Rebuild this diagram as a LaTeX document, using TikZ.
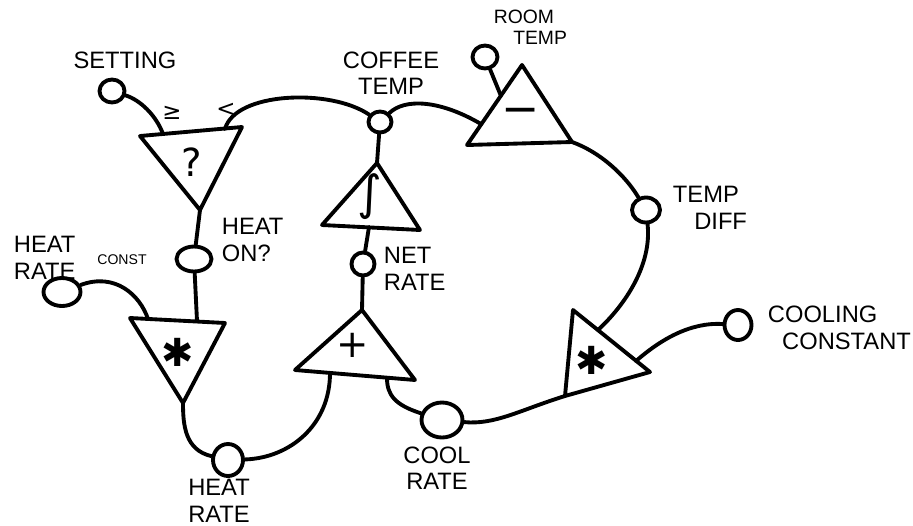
\documentclass[tikz,border=0pt]{standalone}
\usepackage{fontspec}
\setmainfont{Liberation Sans}
\newfontfamily\symf{DejaVu Sans}
\usetikzlibrary{shapes.geometric}
\begin{document}
\begin{tikzpicture}[x=0.02cm,y=-0.02cm, line width=2.2pt, line cap=round, line join=round,
  port/.style={draw, ellipse, inner sep=0pt},
  gate/.style={draw},
  lbl/.style={font=\fontsize{13.5}{15}\selectfont, inner sep=0pt},
  slbl/.style={font=\fontsize{11}{12}\selectfont, inner sep=0pt},
  opsym/.style={font=\symf\fontsize{22}{22}\selectfont, inner sep=0pt},
  cmpmark/.style={font=\symf\fontsize{13}{13}\selectfont, inner sep=0pt}]
\useasboundingbox (0,0) rectangle (913,525);
% ports
\node[port, minimum width=0.5cm, minimum height=0.46cm] (setting) at (112,91) {};
\node[port, minimum width=0.46cm, minimum height=0.42cm] (coffee) at (380,122) {};
\node[port, minimum width=0.5cm, minimum height=0.46cm] (room) at (485,57) {};
\node[port, minimum width=0.56cm, minimum height=0.5cm] (tempdiff) at (646,210) {};
\node[port, minimum width=0.54cm, minimum height=0.6cm] (coolconst) at (738,325) {};
\node[port, minimum width=0.82cm, minimum height=0.7cm] (coolrate) at (442,420) {};
\node[port, minimum width=0.6cm, minimum height=0.64cm] (heatrate) at (228,460) {};
\node[port, minimum width=0.7cm, minimum height=0.5cm] (heaton) at (194,259) {};
\node[port, minimum width=0.74cm, minimum height=0.56cm] (hrconst) at (62,292) {};
\node[port, minimum width=0.46cm, minimum height=0.46cm] (netrate) at (363,264) {};
% gate vertices
\coordinate (qa) at (140,136); \coordinate (qb) at (242,127); \coordinate (qc) at (200,210);
\coordinate (qin1) at (163,134); \coordinate (qin2) at (225,129);
\coordinate (ma) at (522,65); \coordinate (mb) at (467,145); \coordinate (mc) at (572,142);
\coordinate (mleft) at (481,124); \coordinate (mroom) at (501,96);
\coordinate (ia) at (377,163); \coordinate (ib) at (322,225); \coordinate (ic) at (420,230);
\coordinate (ibot) at (369,227);
\coordinate (pa) at (362,310); \coordinate (pb) at (295,370); \coordinate (pc) at (415,380);
\coordinate (pbot1) at (330,373); \coordinate (pbot2) at (387,378);
\coordinate (ha) at (130,318); \coordinate (hb) at (225,323); \coordinate (hc) at (183,403);
\coordinate (htop1) at (148,319); \coordinate (htop2) at (197,321);
\coordinate (ca) at (573,310); \coordinate (cb) at (650,372); \coordinate (cc) at (565,396);
\coordinate (cin1) at (598,330); \coordinate (cin2) at (636,361);
% gates
\draw[gate] (qa) -- (qb) -- (qc) -- cycle;
\draw[gate] (ma) -- (mb) -- (mc) -- cycle;
\draw[gate] (ia) -- (ib) -- (ic) -- cycle;
\draw[gate] (pa) -- (pb) -- (pc) -- cycle;
\draw[gate] (ha) -- (hb) -- (hc) -- cycle;
\draw[gate] (ca) -- (cb) -- (cc) -- cycle;
% operator symbols
\node[opsym] (qs) at (192,162) {?};
\node[opsym, font=\symf\fontsize{26}{26}\selectfont] (ms) at (521,116) {−};
\node[opsym, font=\symf\fontsize{27}{27}\selectfont] (is) at (370,197) {∫};
\node[opsym] (ps) at (353,345) {+};
\node[opsym] (hs) at (178,352) {✱};
\node[opsym] (cs) at (592,360) {✱};
\node[cmpmark] (ge) at (172,113) {≥};
\node[cmpmark] (lt) at (226,110) {<};
% wires
\draw (setting) .. controls (140,100) and (156,115) .. (qin1);
\draw (qin2) .. controls (235,92) and (330,88) .. (coffee);
\draw (coffee) .. controls (405,98) and (440,100) .. (mleft);
\draw (room) -- (mroom);
\draw (mc) .. controls (600,152) and (625,175) .. (tempdiff);
\draw (tempdiff) .. controls (652,265) and (625,305) .. (cin1);
\draw (cin2) .. controls (660,340) and (690,322) .. (coolconst);
\draw (cc) .. controls (520,410) and (495,425) .. (coolrate);
\draw (coolrate) .. controls (395,405) and (387,395) .. (pbot2);
\draw (pbot1) .. controls (330,425) and (290,458) .. (heatrate);
\draw (heatrate) .. controls (185,450) and (183,425) .. (hc);
\draw (hrconst) .. controls (115,272) and (140,295) .. (htop1);
\draw (heaton) -- (htop2);
\draw (qc) -- (heaton);
\draw (coffee) -- (ia);
\draw (ibot) -- (netrate);
\draw (netrate) -- (pa);
% labels
\node[lbl] (lsetting) at (125,60) {SETTING};
\node[lbl, align=center] (lcoffee) at (391,73) {COFFEE\\TEMP};
\node[slbl, align=left, anchor=west] (lroom) at (492,27) {ROOM\\\hspace*{1em}TEMP};
\node[lbl, align=left, anchor=west] (ltemp) at (671,208) {TEMP\\\hspace*{0.9em}DIFF};
\node[lbl, align=left, anchor=west] (lcool) at (766,328) {COOLING\\\hspace*{0.6em}CONSTANT};
\node[lbl, align=center] (lheatrate) at (219,501) {HEAT\\RATE};
\node[lbl, align=center] (lcoolrate) at (437,468) {COOL\\RATE};
\node[lbl, align=left, anchor=west] (lnet) at (382,269) {NET\\RATE};
\node[lbl, align=left, anchor=west] (lheaton) at (220,240) {HEAT\\ON?};
\node[lbl, align=left, anchor=west] (lhrc) at (12,258) {HEAT\\RATE};
\node[font=\fontsize{8}{9}\selectfont, inner sep=0pt] (lconst) at (122,260) {CONST};
\end{tikzpicture}
\end{document}
